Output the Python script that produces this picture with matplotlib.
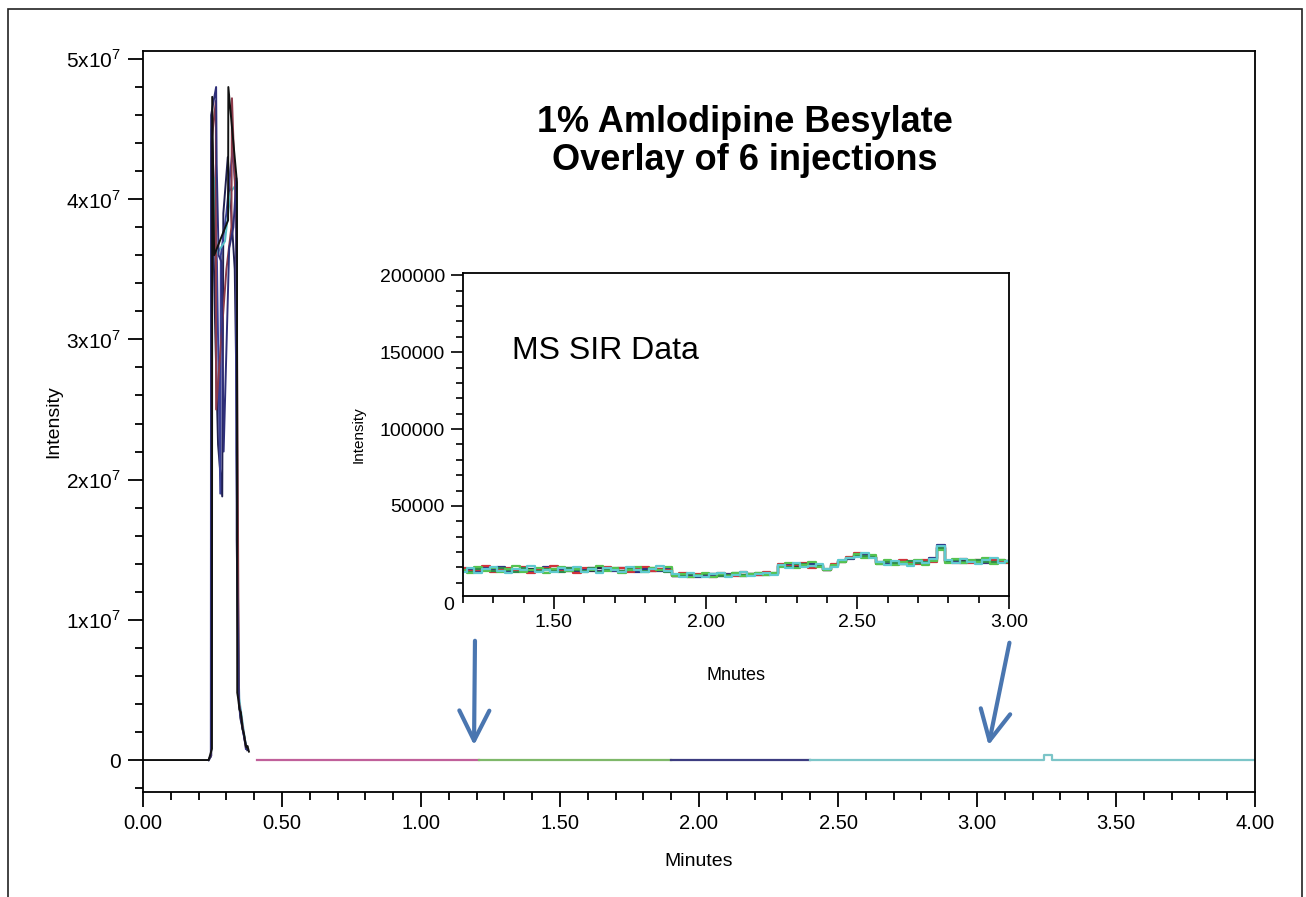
"""Overlay of 6 injections of 1% amlodipine besylate with MS SIR inset."""
import matplotlib
matplotlib.use("Agg")
import matplotlib.pyplot as plt
import numpy as np
from matplotlib.patches import Rectangle, FancyArrowPatch
from matplotlib.ticker import MultipleLocator, FixedLocator, FixedFormatter

plt.rcParams["font.family"] = ["Liberation Sans", "DejaVu Sans"]
plt.rcParams["mathtext.fontset"] = "custom"
plt.rcParams["mathtext.rm"] = "Liberation Sans"

# ---- main chromatogram data (intensity in units of 1e6) ----
inj_colors = ["#111111", "#2e2e78", "#8c3b4a", "#55c0c8", "#3a3f96", "#202050"]

inj1_t = [0.000, 0.236, 0.242, 0.248, 0.249, 0.256, 0.306, 0.307, 0.338, 0.339,
          0.343, 0.347, 0.352, 0.358, 0.363, 0.368, 0.372, 0.376, 0.381]
inj1_v = [0.0, 0.0, 0.4, 0.8, 47.3, 36.0, 38.5, 48.0, 41.2, 4.8,
          4.3, 3.6, 3.4, 2.2, 1.9, 1.2, 0.9, 1.0, 0.6]
inj2_t = [0.236, 0.244, 0.245, 0.263, 0.265, 0.272, 0.283, 0.290, 0.310, 0.325,
          0.336, 0.337, 0.345, 0.360, 0.372]
inj2_v = [0.0, 0.3, 46.0, 48.0, 42.5, 36.0, 35.5, 22.0, 36.5, 38.0,
          41.5, 15.7, 4.0, 2.0, 0.8]
inj3_t = [0.236, 0.245, 0.246, 0.262, 0.263, 0.300, 0.318, 0.320, 0.336, 0.345, 0.370]
inj3_v = [0.0, 0.3, 44.0, 47.0, 25.0, 35.0, 38.0, 47.2, 38.0, 4.2, 0.9]
inj4_t = [0.236, 0.245, 0.246, 0.255, 0.262, 0.295, 0.315, 0.333, 0.337, 0.340, 0.346, 0.370]
inj4_v = [0.0, 0.3, 40.0, 41.5, 36.0, 37.0, 40.5, 41.0, 39.0, 12.0, 4.4, 1.0]
inj5_t = [0.236, 0.245, 0.247, 0.266, 0.278, 0.280, 0.300, 0.322, 0.334, 0.336, 0.346, 0.370]
inj5_v = [0.0, 0.3, 45.0, 35.5, 19.0, 36.0, 39.0, 43.5, 40.5, 22.0, 4.1, 0.8]
inj6_t = [0.236, 0.245, 0.247, 0.260, 0.270, 0.285, 0.289, 0.305, 0.330, 0.338, 0.342, 0.350, 0.375]
inj6_v = [0.0, 0.3, 43.0, 30.5, 22.5, 18.8, 39.0, 43.0, 35.0, 24.0, 5.0, 3.0, 0.7]

# baseline after the peak, one segment per SIR window
seg_t = [[0.41, 1.21], [1.21, 1.90], [1.90, 2.40],
         [2.40, 3.24, 3.24, 3.27, 3.27, 4.00]]
seg_v = [[0.0, 0.0], [0.0, 0.0], [0.0, 0.0],
         [0.0, 0.0, 0.35, 0.35, 0.0, 0.0]]
seg_colors = ["#c0609a", "#7fb86a", "#3c3c80", "#7cc5c8"]

main_yticks = [0, 1e7, 2e7, 3e7, 4e7, 5e7]
main_ylabels = ["0", r"1x10$^{7}$", r"2x10$^{7}$", r"3x10$^{7}$", r"4x10$^{7}$", r"5x10$^{7}$"]
main_xticks = [0.0, 0.5, 1.0, 1.5, 2.0, 2.5, 3.0, 3.5, 4.0]

# ---- inset SIR data (intensity in thousands), 1.200 .. 3.000 min ----
sir_1 = [8.2, 6.4, 10.1, 7.5, 9.4, 6.8, 8.9, 10.6, 7.1, 8.3, 9.8, 6.2, 8.7, 10.2, 7.4, 9.1, 6.9, 8.4,
         10.8, 7.6, 9.3, 6.5, 8.1, 10.4, 7.3, 9.6, 8.0, 10.3,
         4.1, 5.9, 3.6, 5.2, 6.4, 3.9, 5.5, 4.6, 6.1, 4.3, 5.8, 6.6, 4.9, 6.2,
         10.1, 12.6, 9.4, 11.8, 13.2, 10.3, 8.0, 11.6, 13.2, 15.8, 18.4, 16.3, 17.9,
         12.1, 14.6, 11.3, 13.8, 12.2, 15.1, 11.7, 14.0, 21.4,
         13.1, 15.4, 12.6, 14.7, 13.3, 15.8, 12.4, 14.9, 13.6]
sir_2 = [7.3, 9.7, 6.6, 8.8, 10.5, 7.9, 6.3, 9.2, 8.5, 10.9, 7.0, 8.6, 6.7, 9.5, 8.1, 10.3, 7.2, 8.9,
         6.4, 9.9, 8.3, 7.1, 10.1, 8.4, 6.8, 9.0, 10.7, 7.7,
         5.6, 3.8, 6.2, 4.4, 3.5, 5.7, 6.5, 4.0, 5.3, 6.8, 4.5, 5.9, 6.3, 5.1,
         11.7, 9.6, 12.9, 10.4, 11.2, 12.3, 9.1, 10.4, 14.5, 16.3, 17.0, 19.2, 16.1,
         13.6, 11.6, 14.4, 12.5, 11.1, 14.2, 12.9, 15.4, 23.9,
         14.8, 12.7, 15.6, 13.4, 12.1, 14.5, 15.9, 13.0, 14.2]
sir_3 = [9.6, 7.7, 8.4, 10.7, 6.9, 8.0, 9.9, 7.4, 10.2, 6.6, 8.8, 9.5, 11.1, 7.6, 8.3, 6.5, 9.7, 8.2,
         7.0, 10.5, 8.6, 9.4, 6.9, 8.7, 10.0, 7.5, 9.2, 8.1,
         4.7, 6.3, 4.0, 5.4, 5.9, 3.7, 6.1, 5.0, 4.2, 6.7, 5.6, 4.8, 6.9, 5.7,
         12.1, 10.6, 11.4, 13.0, 9.8, 11.5, 8.6, 11.9, 13.7, 16.9, 19.6, 17.2, 16.6,
         12.8, 13.9, 12.0, 14.7, 13.1, 11.9, 15.0, 13.2, 22.5,
         14.1, 13.0, 15.2, 12.9, 14.6, 13.5, 15.1, 14.0, 12.8]
sir_4 = [7.8, 8.9, 7.2, 9.3, 8.1, 10.0, 7.6, 8.4, 9.0, 7.3, 8.7, 10.4, 7.9, 8.5, 9.6, 7.1, 8.0, 9.8,
         7.7, 8.8, 7.4, 9.5, 8.3, 7.0, 9.1, 8.6, 7.8, 9.4,
         4.3, 5.1, 4.6, 3.9, 5.3, 4.8, 4.2, 5.6, 5.0, 4.4, 5.8, 5.2, 6.0, 5.5,
         10.8, 11.9, 12.4, 10.9, 12.0, 11.1, 8.3, 11.2, 14.1, 15.5, 17.6, 18.1, 16.8,
         13.4, 12.3, 13.0, 13.9, 12.6, 13.3, 14.1, 16.2, 24.6,
         13.6, 14.2, 13.1, 14.4, 13.8, 13.0, 14.6, 13.5, 14.1]
sir_5 = [8.5, 7.0, 9.2, 8.0, 7.7, 9.9, 8.3, 6.9, 9.4, 8.1, 7.5, 9.0, 8.6, 7.2, 9.7, 8.4, 7.9, 9.3,
         6.8, 8.2, 9.6, 7.4, 8.9, 8.0, 7.6, 9.8, 8.5, 7.3,
         5.0, 4.5, 5.8, 4.1, 5.4, 6.0, 4.7, 5.2, 6.2, 4.9, 5.5, 6.1, 5.3, 6.4,
         11.3, 10.2, 11.9, 12.5, 10.7, 11.6, 8.8, 10.9, 13.8, 16.0, 18.2, 17.4, 17.0,
         12.4, 13.7, 12.8, 12.0, 14.3, 12.7, 13.5, 14.8, 22.9,
         13.9, 14.6, 13.2, 14.0, 15.0, 13.7, 13.3, 14.8, 13.5]
sir_6 = [8.0, 8.6, 7.6, 9.1, 8.3, 7.9, 8.8, 7.4, 8.5, 9.2, 7.8, 8.1, 9.0, 8.2, 7.5, 8.9, 8.4, 7.7,
         9.3, 8.0, 8.6, 7.9, 8.7, 9.1, 8.2, 7.6, 8.8, 8.3,
         4.6, 5.3, 4.9, 5.1, 4.5, 5.4, 5.0, 4.7, 5.5, 5.2, 4.9, 5.7, 5.4, 5.9,
         11.0, 11.5, 10.5, 11.7, 11.2, 10.8, 8.4, 11.4, 13.9, 16.2, 17.8, 17.3, 16.9,
         13.0, 12.8, 13.6, 12.5, 13.4, 13.1, 13.8, 15.5, 23.2,
         14.0, 13.6, 14.3, 13.8, 14.1, 13.4, 14.5, 13.9, 14.2]
sir_t = np.linspace(1.2, 3.0, len(sir_1))
# drawing order: bottom first
sir_series = [sir_6, sir_4, sir_3, sir_5, sir_1, sir_2]
sir_colors = ["#222244", "#2b2f86", "#d0323a", "#2f8a4a", "#55c24f", "#5fc9cf"]

inset_yticks = [50000, 100000, 150000, 200000]
inset_xticks = [1.5, 2.0, 2.5, 3.0]

W, H = 1306, 897
fig = plt.figure(figsize=(W / 100, H / 100), dpi=100)
fig.patches.append(Rectangle((8 / W, -0.01), 1294 / W, 1 - 9 / H + 0.01, transform=fig.transFigure,
                             fill=False, edgecolor="#222222", linewidth=1.2))

# ---- main axes ----
ax = fig.add_axes([143 / W, 1 - 792 / H, (1255 - 143) / W, (792 - 51) / H])
inj_t = [inj1_t, inj2_t, inj3_t, inj4_t, inj5_t, inj6_t]
inj_v = [inj1_v, inj2_v, inj3_v, inj4_v, inj5_v, inj6_v]
for t, v, c in zip(inj_t[::-1], inj_v[::-1], inj_colors[::-1]):
    ax.plot(t, np.array(v) * 1e6, color=c, lw=1.4)
for t, v, c in zip(seg_t, seg_v, seg_colors):
    ax.plot(t, np.array(v) * 1e6, color=c, lw=1.6)

ax.set_xlim(0, 4.0)
ax.set_ylim(-2.28e6, 5.057e7)
ax.yaxis.set_major_locator(FixedLocator(main_yticks))
ax.yaxis.set_major_formatter(FixedFormatter(main_ylabels))
ax.yaxis.set_minor_locator(MultipleLocator(2e6))
ax.xaxis.set_major_locator(FixedLocator(main_xticks))
ax.xaxis.set_major_formatter(FixedFormatter(["%.2f" % x for x in main_xticks]))
ax.xaxis.set_minor_locator(MultipleLocator(0.1))
ax.tick_params(which="major", direction="out", length=11, width=1.3, labelsize=14.5, pad=5)
ax.tick_params(axis="y", which="major", labelsize=15)
ax.tick_params(which="minor", direction="out", length=6, width=1.3)
for s in ax.spines.values():
    s.set_linewidth(1.3)
ax.set_xlabel("Minutes", fontsize=14, labelpad=14)
ax.set_ylabel("Intensity", fontsize=14, labelpad=3)

fig.text(745 / W, 1 - 122 / H, "1% Amlodipine Besylate", ha="center", va="center",
         fontsize=26, fontweight="bold")
fig.text(745 / W, 1 - 160 / H, "Overlay of 6 injections", ha="center", va="center",
         fontsize=26, fontweight="bold")

# ---- inset axes ----
ins = fig.add_axes([463 / W, 1 - 596 / H, (1009 - 463) / W, (596 - 273) / H])
for v, c in zip(sir_series, sir_colors):
    ins.plot(sir_t, np.array(v) * 1e3, color=c, lw=1.6, drawstyle="steps-mid")
ins.set_xlim(1.2, 3.0)
ins.set_ylim(-8600, 201500)
ins.yaxis.set_major_locator(FixedLocator(inset_yticks))
ins.yaxis.set_minor_locator(FixedLocator(np.arange(0, 200001, 10000)))
ins.xaxis.set_major_locator(FixedLocator(inset_xticks))
ins.xaxis.set_major_formatter(FixedFormatter(["%.2f" % x for x in inset_xticks]))
ins.xaxis.set_minor_locator(MultipleLocator(0.1))
ins.tick_params(which="major", direction="out", length=9, width=1.2, labelsize=14, pad=4)
ins.tick_params(which="minor", direction="out", length=5, width=1.2)
for s in ins.spines.values():
    s.set_linewidth(1.3)
ins.text(-0.017, -0.028, "0", transform=ins.transAxes, ha="right", va="center", fontsize=14)
ins.text(0.09, 0.76, "MS SIR Data", transform=ins.transAxes, ha="left", va="center", fontsize=23)
ins.set_ylabel("Intensity", fontsize=11, labelpad=10)
ins.set_xlabel("Mnutes", fontsize=13, labelpad=26)

# ---- arrows pointing from inset edges to the main trace ----
arrow_col = "#4a76b0"
for (x0, y0), (x1, y1) in [((475, 638), (474, 748)), ((1010, 640), (988, 748))]:
    fig.add_artist(FancyArrowPatch(
        (x0 / W, 1 - y0 / H), (x1 / W, 1 - y1 / H), transform=fig.transFigure,
        arrowstyle="->,head_length=1.2,head_width=0.6", mutation_scale=18,
        color=arrow_col, lw=3.0))

fig.savefig("out.png", dpi=100)
